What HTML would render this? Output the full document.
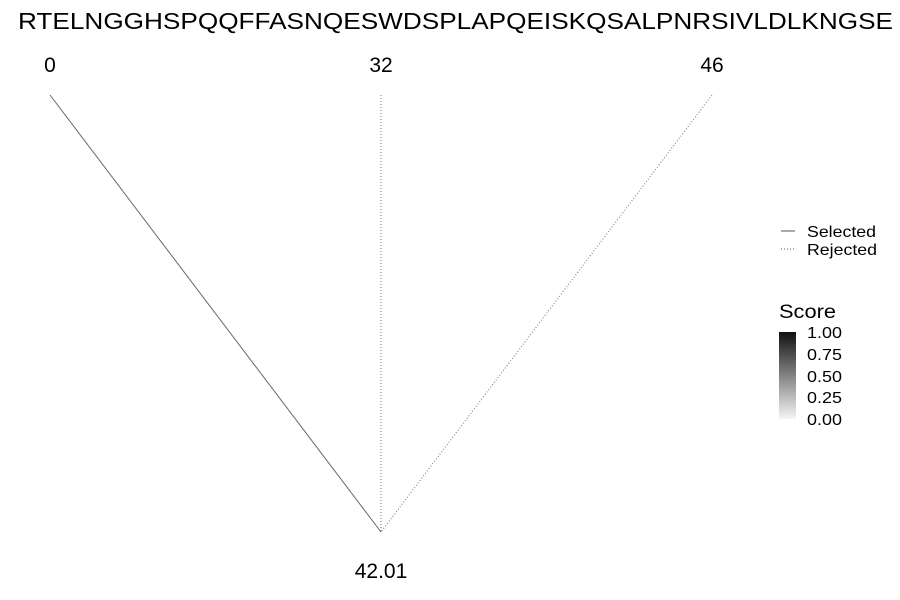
<!DOCTYPE html>
<html><head><meta charset="utf-8"><style>
body{margin:0;background:#fff;}
svg{display:block;font-family:"Liberation Sans",sans-serif;}
</style></head><body>
<svg width="900" height="600">
<defs><linearGradient id="g" x1="0" y1="1" x2="0" y2="0">
<stop offset="0" stop-color="#f5f5f5"/><stop offset="1" stop-color="#111"/></linearGradient></defs>
<text x="18" y="29" font-size="23" textLength="875" lengthAdjust="spacingAndGlyphs" fill="#000">RTELNGGHSPQQFFASNQESWDSPLAPQEISKQSALPNRSIVLDLKNGSE</text>
<g id="tree"></g>
<g>
<line x1="781" y1="231" x2="795" y2="231" stroke="#555" stroke-width="1"/>
<text x="807" y="237" font-size="16" textLength="69" lengthAdjust="spacingAndGlyphs" fill="#000">Selected</text>
<line x1="781" y1="249" x2="795" y2="249" stroke="#555" stroke-width="1" stroke-dasharray="1,2"/>
<text x="807" y="255" font-size="16" textLength="70" lengthAdjust="spacingAndGlyphs" fill="#000">Rejected</text>
</g>
<g>
<text x="779" y="318" font-size="19" textLength="57" lengthAdjust="spacingAndGlyphs" fill="#000">Score</text>
<rect x="779" y="332" width="17" height="87" fill="url(#g)"/>
<g font-size="16" fill="#000">
<text x="807" y="338" textLength="35" lengthAdjust="spacingAndGlyphs">1.00</text><text x="807" y="360" textLength="35" lengthAdjust="spacingAndGlyphs">0.75</text><text x="807" y="382" textLength="35" lengthAdjust="spacingAndGlyphs">0.50</text><text x="807" y="403" textLength="35" lengthAdjust="spacingAndGlyphs">0.25</text><text x="807" y="425" textLength="35" lengthAdjust="spacingAndGlyphs">0.00</text>
</g></g>
</svg>
<script>
const leafLabels=["0","32","46"];
const leafStatus=["Selected","Rejected","Rejected"];
const rootLabel="42.01";
const rootIndex=1;
const g=document.getElementById('tree');
const ns="http://www.w3.org/2000/svg";
const x0=50,x1=712,leafY=95,rootY=532;
const xs=i=>x0+(x1-x0)*i/(leafLabels.length-1);
const rx=xs(rootIndex);
leafLabels.forEach((lab,i)=>{
 const l=document.createElementNS(ns,'line');
 l.setAttribute('x1',xs(i));l.setAttribute('y1',leafY);l.setAttribute('x2',rx);l.setAttribute('y2',rootY);
 l.setAttribute('stroke',leafStatus[i]==="Selected"?"#666":"#777");
 l.setAttribute('stroke-width','1');
 if(leafStatus[i]!=="Selected")l.setAttribute('stroke-dasharray','1,2');
 
 
 g.appendChild(l);
 const t=document.createElementNS(ns,'text');
 t.setAttribute('x',xs(i));t.setAttribute('y',72);t.setAttribute('font-size','21');t.setAttribute('text-anchor','middle');
 t.textContent=lab;
 
 
 g.appendChild(t);
});
const rt=document.createElementNS(ns,'text');
rt.setAttribute('x',rx);rt.setAttribute('y',578);rt.setAttribute('font-size','21');rt.setAttribute('text-anchor','middle');
rt.textContent=rootLabel;


g.appendChild(rt);
</script>
</body></html>
